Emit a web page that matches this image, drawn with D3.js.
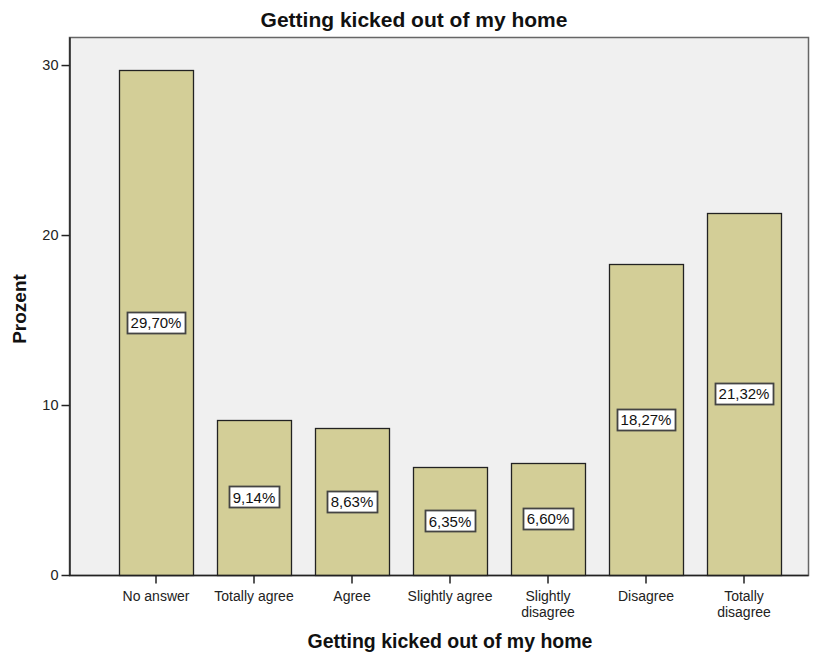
<!DOCTYPE html>
<html><head><meta charset="utf-8">
<script src="https://cdn.jsdelivr.net/npm/d3@7"></script>
<style>body{margin:0;background:#fff;} text{font-family:"Liberation Sans",Arial,sans-serif;}</style>
</head><body><svg id="c" width="820" height="655"></svg>
<script>
const categories = ["No answer","Totally agree","Agree","Slightly agree","Slightly disagree","Disagree","Totally disagree"];
const categoryLines = [["No answer"],["Totally agree"],["Agree"],["Slightly agree"],["Slightly","disagree"],["Disagree"],["Totally","disagree"]];
const values = [29.70, 9.14, 8.63, 6.35, 6.60, 18.27, 21.32];
const valueLabels = ["29,70%","9,14%","8,63%","6,35%","6,60%","18,27%","21,32%"];
const yTicks = [0, 10, 20, 30];

const svg = d3.select("#c");
const L = 69, T = 37, R = 808, B = 575;
const y = d3.scaleLinear().domain([0, 31.65]).range([B, T]);
const x = d3.scaleBand().domain(categories).range([107, 793]).paddingInner(0.25).paddingOuter(0.125);

svg.append("rect").attr("x", L + 0.5).attr("y", T + 0.5).attr("width", R - L).attr("height", B - T)
  .attr("fill", "#f0f0f0").attr("stroke", "#666").attr("stroke-width", 1.5);

// bars
svg.selectAll(".bar").data(values).enter().append("rect")
  .attr("x", (d, i) => Math.round(x(categories[i])) + 0.5)
  .attr("y", d => Math.round(y(d)) + 0.5)
  .attr("width", Math.round(x.bandwidth()))
  .attr("height", d => Math.round(B - y(d)))
  .attr("fill", "#d3ce97").attr("stroke", "#222").attr("stroke-width", 1.3);

// axes
const yAxis = svg.append("g").attr("transform", `translate(${L + 0.5},0)`)
  .call(d3.axisLeft(y).tickValues(yTicks).tickSize(8).tickSizeOuter(0).tickPadding(3));
yAxis.select(".domain").attr("stroke", "#222").attr("stroke-width", 1.5);
yAxis.selectAll(".tick line").attr("stroke", "#222").attr("stroke-width", 1.5);
yAxis.selectAll("text").attr("font-size", 14.5).attr("fill", "#222");

const xAxis = svg.append("g").attr("transform", `translate(0,${B + 0.5})`)
  .call(d3.axisBottom(x).tickSize(8).tickSizeOuter(0).tickFormat(""));
xAxis.select(".domain").attr("d", `M${L},0H${R + 0.5}`).attr("stroke", "#222").attr("stroke-width", 1.5);
xAxis.selectAll(".tick line").attr("stroke", "#222").attr("stroke-width", 1.5);
xAxis.selectAll(".tick").each(function(d, i) {
  const t = d3.select(this).append("text").attr("fill", "#222").attr("font-size", 14).attr("text-anchor", "middle");
  categoryLines[i].forEach((ln, j) => t.append("tspan").attr("x", 0).attr("y", 25 + j * 16).text(ln));
});

// value labels
values.forEach((v, i) => {
  const cx = x(categories[i]) + x.bandwidth() / 2, cy = y(v / 2);
  const g = svg.append("g");
  const t = g.append("text").attr("x", cx).attr("y", cy + 5.5).attr("text-anchor", "middle")
    .attr("font-size", 15).attr("fill", "#111").text(valueLabels[i]);
  const bb = t.node().getBBox();
  g.insert("rect", "text").attr("x", Math.round(bb.x - 3.5) + 0.5).attr("y", Math.round(cy - 11) + 0.5)
    .attr("width", Math.round(bb.width + 7)).attr("height", 21)
    .attr("fill", "#fff").attr("stroke", "#444").attr("stroke-width", 1.8);
});

svg.append("text").attr("x", 414).attr("y", 27).attr("text-anchor", "middle")
  .attr("font-size", 21).attr("font-weight", "bold").attr("fill", "#111").text("Getting kicked out of my home");
svg.append("text").attr("x", 450).attr("y", 648).attr("text-anchor", "middle")
  .attr("font-size", 19.5).attr("font-weight", "bold").attr("fill", "#111").text("Getting kicked out of my home");
svg.append("text").attr("transform", "translate(26,309) rotate(-90)").attr("text-anchor", "middle")
  .attr("font-size", 19).attr("font-weight", "bold").attr("fill", "#111").text("Prozent");
</script></body></html>
